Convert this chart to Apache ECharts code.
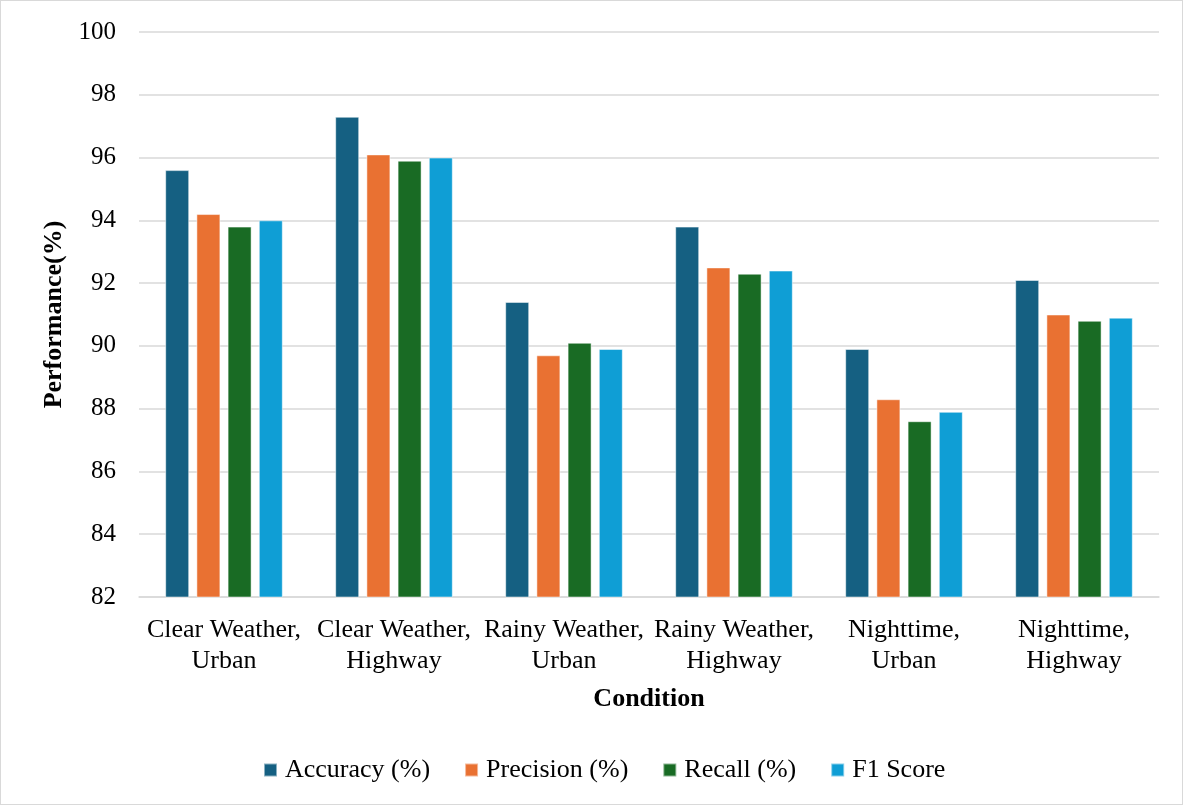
<!DOCTYPE html>
<html lang="en">
<head>
  <meta charset="UTF-8">
  <script src="https://cdn.jsdelivr.net/npm/echarts@6/dist/echarts.min.js"></script>
  <title>Performance by Condition</title>
  <style>
    html, body { margin: 0; padding: 0; background: #fff; }
    #main { width: 1183px; height: 805px; box-sizing: border-box; border: 1px solid #d9d9d9; }
  </style>
</head>
<body>
  <div id="main"></div>
  <script>
    var categories = ['Clear Weather,\nUrban', 'Clear Weather,\nHighway', 'Rainy Weather,\nUrban',
      'Rainy Weather,\nHighway', 'Nighttime,\nUrban', 'Nighttime,\nHighway'];
    var seriesNames = ['Accuracy (%)', 'Precision (%)', 'Recall (%)', 'F1 Score'];
    var accuracy = [95.6, 97.3, 91.4, 93.8, 89.9, 92.1];
    var precision = [94.2, 96.1, 89.7, 92.5, 88.3, 91.0];
    var recall = [93.8, 95.9, 90.1, 92.3, 87.6, 90.8];
    var f1 = [94.0, 96.0, 89.9, 92.4, 87.9, 90.9];
    var colors = ['#156082', '#E97132', '#196B24', '#0F9ED5'];

    var font = '"Liberation Serif", "Times New Roman", serif';
    var chart = echarts.init(document.getElementById('main'), null, { renderer: 'canvas' });

    var values = [accuracy, precision, recall, f1];
    var series = values.map(function (v, i) {
      return {
        name: seriesNames[i],
        type: 'bar',
        data: v,
        barWidth: 24,
        barGap: '30%',
        itemStyle: { color: colors[i], borderColor: 'rgba(255,255,255,0.5)', borderWidth: 1 }
      };
    });

    var option = {
      animation: false,
      textStyle: { fontFamily: font },
      grid: { left: 138, right: 23, top: 31, bottom: 207 },
      legend: {
        bottom: 16,
        left: 257,
        itemWidth: 13,
        itemHeight: 13,
        itemGap: 34,
        icon: 'rect',
        textStyle: { fontFamily: font, fontSize: 26, color: '#000', padding: [0, 0, 0, 3] },
        data: seriesNames
      },
      xAxis: {
        type: 'category',
        data: categories,
        name: 'Condition',
        nameLocation: 'middle',
        nameGap: 89,
        nameTextStyle: { fontFamily: font, fontSize: 26, fontWeight: 'bold', color: '#000' },
        axisLine: { lineStyle: { color: '#d9d9d9', width: 1.5 } },
        axisTick: { show: false },
        axisLabel: { interval: 0, fontFamily: font, fontSize: 26, color: '#000', lineHeight: 31, margin: 18 }
      },
      yAxis: {
        type: 'value',
        min: 82,
        max: 100,
        interval: 2,
        name: 'Performance(%)',
        nameLocation: 'middle',
        nameGap: 69,
        nameTextStyle: { fontFamily: font, fontSize: 26, fontWeight: 'bold', color: '#000' },
        axisLine: { show: false },
        axisTick: { show: false },
        axisLabel: { fontFamily: font, fontSize: 25, color: '#000', margin: 23 },
        splitLine: { lineStyle: { color: '#d9d9d9', width: 1.5 } }
      },
      series: series
    };

    chart.setOption(option);
  </script>
</body>
</html>
